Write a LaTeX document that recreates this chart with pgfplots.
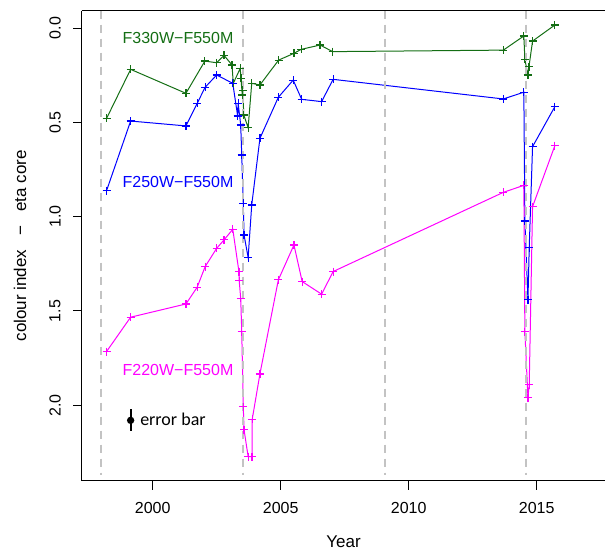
\documentclass[border=0pt]{standalone}
\usepackage{pgfplots}
\pgfplotsset{compat=1.18}
\usepackage{fontspec}
\setmainfont{Liberation Sans}
\newfontfamily\carlito{Carlito}

\definecolor{sgreen}{RGB}{20,110,20}
\definecolor{sblue}{RGB}{0,0,255}
\definecolor{smag}{RGB}{255,0,255}
\definecolor{dashgray}{RGB}{195,195,195}

% 1 px of the reference = 0.5pt
\begin{document}
\begin{tikzpicture}
\begin{axis}[
    scale only axis,
    width=261.5pt, height=235pt,
    xmin=1997.24, xmax=2017.67,
    ymin=-0.092, ymax=2.40,
    y dir=reverse,
    axis x line*=bottom, axis y line*=left,
    axis line style={line width=0.5pt},
    clip=false,
    xtick={2000,2005,2010,2015},
    ytick={0,0.5,1,1.5,2},
    xticklabels={2000,2005,2010,2015},
    yticklabels={0.0,0.5,1.0,1.5,2.0},
    tick align=outside,
    major tick length=4.5pt,
    tick style={line width=0.5pt, black},
    /pgf/number format/assume math mode=true,
    tick label style={font=\fontsize{8}{9.6}\selectfont},
    xticklabel style={anchor=center, yshift=-9pt},
    % rotated labels: yshift moves them left
    yticklabel style={rotate=90, anchor=center, yshift=9pt},
    xlabel={Year},
    ylabel={colour index\ \ \ −\ \ \ eta core},
    label style={font=\fontsize{8.5}{10}\selectfont},
    xlabel style={at={(axis description cs:0.5,0)}, anchor=center, yshift=-30.5pt},
    ylabel style={at={(axis description cs:0,0.5)}, anchor=center, yshift=31pt},
    every axis plot/.append style={line width=0.5pt},
]
% F330W-F550M
\addplot[sgreen, mark=+, mark size=2pt, mark options={line width=0.6pt}] coordinates {
(1998.20,0.479) (1999.14,0.219) (2001.30,0.346) (2002.04,0.175) (2002.50,0.184)
(2002.79,0.145) (2003.10,0.196) (2003.15,0.293) (2003.42,0.214) (2003.45,0.267)
(2003.50,0.355) (2003.52,0.329) (2003.56,0.461) (2003.73,0.528) (2003.87,0.293)
(2004.19,0.302) (2004.92,0.170) (2005.52,0.134) (2005.80,0.113) (2006.54,0.090)
(2007.03,0.125) (2013.70,0.117) (2014.50,0.042) (2014.54,0.166) (2014.66,0.249)
(2014.70,0.205) (2014.84,0.069) (2015.71,-0.016)};
% F250W-F550M
\addplot[sblue, mark=+, mark size=2pt, mark options={line width=0.6pt}] coordinates {
(1998.20,0.862) (1999.14,0.493) (2001.30,0.519) (2001.74,0.399) (2002.05,0.314)
(2002.50,0.249) (2003.13,0.293) (2003.32,0.466) (2003.34,0.399) (2003.44,0.514)
(2003.48,0.673) (2003.54,0.929) (2003.57,1.097) (2003.73,1.217) (2003.87,0.938)
(2004.19,0.585) (2004.91,0.367) (2005.49,0.276) (2005.82,0.378) (2006.60,0.390)
(2007.05,0.272) (2013.70,0.376) (2014.50,0.340) (2014.54,1.023) (2014.66,1.441)
(2014.71,1.164) (2014.84,0.629) (2015.71,0.417)};
% F220W-F550M
\addplot[smag, mark=+, mark size=2pt, mark options={line width=0.6pt}] coordinates {
(1998.20,1.715) (1999.14,1.533) (2001.30,1.463) (2001.74,1.374) (2002.05,1.265)
(2002.50,1.168) (2002.79,1.123) (2003.13,1.067) (2003.37,1.291) (2003.38,1.339)
(2003.44,1.433) (2003.48,1.609) (2003.54,2.007) (2003.57,2.130) (2003.73,2.272)
(2003.88,2.272) (2003.89,2.074) (2004.19,1.834) (2004.91,1.335) (2005.52,1.150)
(2005.84,1.344) (2006.60,1.411) (2007.05,1.291) (2013.70,0.871) (2014.50,0.834)
(2014.54,1.609) (2014.66,1.959) (2014.71,1.892) (2014.84,0.947) (2015.71,0.624)};
% periastron lines
\addplot[dashgray, line width=1pt, dash pattern=on 4pt off 3pt] coordinates {(1997.98,-0.092) (1997.98,2.37)};
\addplot[dashgray, line width=1pt, dash pattern=on 4pt off 3pt] coordinates {(2003.52,-0.092) (2003.52,2.37)};
\addplot[dashgray, line width=1pt, dash pattern=on 4pt off 3pt] coordinates {(2009.06,-0.092) (2009.06,2.37)};
\addplot[dashgray, line width=1pt, dash pattern=on 4pt off 3pt] coordinates {(2014.60,-0.092) (2014.60,2.37)};
% error bar
\addplot[black, mark=*, mark size=1.3pt, line width=1pt,
    error bars/.cd, y dir=both, y explicit, error mark=none,
    error bar style={line width=1pt}] coordinates {(1999.14,2.08) +- (0,0.058)};
\draw[line width=0.5pt] (axis cs:1997.24,-0.092) -- (axis cs:2017.67,-0.092);
\node[text=sgreen, font=\fontsize{8}{9.6}\selectfont] at (axis cs:2000.99,0.053) {F330W−F550M};
\node[text=sblue, font=\fontsize{8}{9.6}\selectfont] at (axis cs:2000.99,0.816) {F250W−F550M};
\node[text=smag, font=\fontsize{8}{9.6}\selectfont] at (axis cs:2000.99,1.812) {F220W−F550M};
\node[anchor=west, inner sep=0pt, font=\carlito\fontsize{9}{10.8}\selectfont] at (axis cs:1999.50,2.077) {error bar};
\coordinate (sw) at (axis cs:1997.24,2.40);
\coordinate (ne) at (axis cs:2017.67,-0.092);
\end{axis}
\pgfresetboundingbox
\path[use as bounding box] ([shift={(-41pt,-35pt)}]sw) rectangle ([shift={(0pt,5.35pt)}]ne);
\end{tikzpicture}
\end{document}
